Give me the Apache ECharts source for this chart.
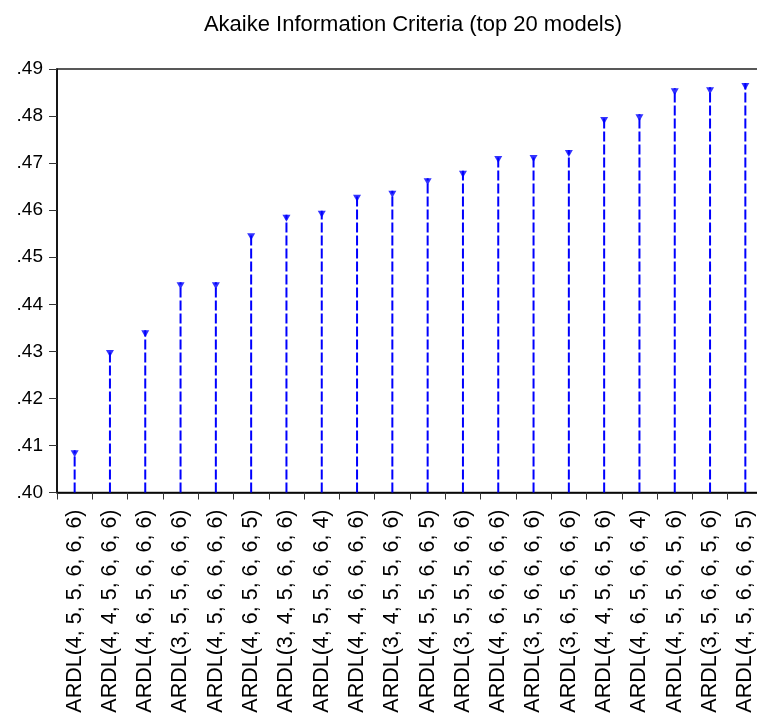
<!DOCTYPE html>
<html>
<head>
<meta charset="utf-8">
<script src="https://cdn.jsdelivr.net/npm/echarts@6/dist/echarts.min.js"></script>
<style>
html,body{margin:0;padding:0;background:#fff;overflow:hidden;}
#chart{width:770px;height:718px;}
</style>
</head>
<body>
<div id="chart"></div>
<script>
const titleText = "Akaike Information Criteria (top 20 models)";
const categories = [
  "ARDL(4, 5, 5, 6, 6, 6)", "ARDL(4, 4, 5, 6, 6, 6)", "ARDL(4, 6, 5, 6, 6, 6)",
  "ARDL(3, 5, 5, 6, 6, 6)", "ARDL(4, 5, 6, 6, 6, 6)", "ARDL(4, 6, 5, 6, 6, 5)",
  "ARDL(3, 4, 5, 6, 6, 6)", "ARDL(4, 5, 5, 6, 6, 4)", "ARDL(4, 4, 6, 6, 6, 6)",
  "ARDL(3, 4, 5, 5, 6, 6)", "ARDL(4, 5, 5, 6, 6, 5)", "ARDL(3, 5, 5, 5, 6, 6)",
  "ARDL(4, 6, 6, 6, 6, 6)", "ARDL(3, 5, 6, 6, 6, 6)", "ARDL(3, 6, 5, 6, 6, 6)",
  "ARDL(4, 4, 5, 6, 5, 6)", "ARDL(4, 6, 5, 6, 6, 4)", "ARDL(4, 5, 5, 6, 5, 6)",
  "ARDL(3, 5, 6, 6, 5, 6)", "ARDL(4, 5, 6, 6, 6, 5)"
];
const aicValues = [
  0.4090, 0.4303, 0.4345, 0.4447, 0.4447, 0.4551, 0.4590, 0.4599, 0.4633, 0.4641,
  0.4668, 0.4684, 0.4715, 0.4717, 0.4728, 0.4798, 0.4804, 0.4859, 0.4861, 0.4870
];
const yMin = 0.40, yMax = 0.49, yStep = 0.01;

const chart = echarts.init(document.getElementById('chart'), null, {renderer: 'canvas'});
const font = "'Liberation Sans', Arial, sans-serif";
chart.setOption({
  animation: false,
  backgroundColor: '#ffffff',
  title: {
    text: titleText,
    left: 408, top: 9, textAlign: 'center',
    textStyle: {fontFamily: font, fontSize: 22, fontWeight: 'normal', color: '#000'}
  },
  grid: {left: 57, top: 69, right: 7, bottom: 225.5, show: true, borderColor: '#222', borderWidth: 1.5, containLabel: false},
  xAxis: {
    type: 'category', data: categories, boundaryGap: true,
    axisLine: {show: true, lineStyle: {color: '#000', width: 1.5}},
    axisTick: {show: true, length: 7, lineStyle: {color: '#333', width: 1}},
    axisLabel: {rotate: 90, margin: 17, interval: 0, fontFamily: font, fontSize: 21.5, color: '#000'},
    splitLine: {show: false}
  },
  yAxis: {
    type: 'value', min: yMin, max: yMax, interval: yStep,
    axisLine: {show: true, lineStyle: {color: '#000', width: 1.5}},
    axisTick: {show: true, length: 8, lineStyle: {color: '#333', width: 1}},
    axisLabel: {margin: 14, fontFamily: font, fontSize: 19, color: '#000',
      formatter: v => v.toFixed(2).replace(/^0/, '')},
    splitLine: {show: false}
  },
  series: [
    {
      type: 'custom',
      data: aicValues.map((v, i) => [i, v]),
      renderItem: function (params, api) {
        const top = api.coord([api.value(0), api.value(1)]);
        const bot = api.coord([api.value(0), yMin]);
        return {
          type: 'line',
          shape: {x1: bot[0], y1: bot[1], x2: top[0], y2: top[1]},
          style: {stroke: '#0000ff', lineWidth: 2, lineDash: [10, 3]}
        };
      },
      z: 2
    },
    {
      type: 'scatter',
      data: aicValues.map((v, i) => [i, v]),
      symbol: 'triangle', symbolRotate: 180, symbolSize: [8, 7], symbolOffset: [0, 3.5],
      itemStyle: {color: '#0000ff'},
      z: 3
    }
  ]
});
</script>
</body>
</html>
